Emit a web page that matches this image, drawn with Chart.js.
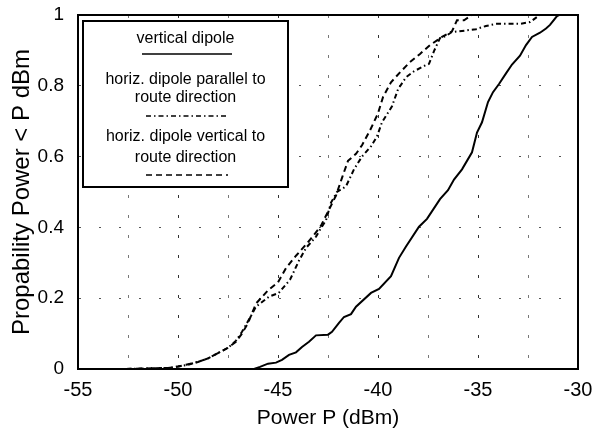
<!DOCTYPE html>
<html>
<head>
<meta charset="utf-8">
<script src="https://cdn.jsdelivr.net/npm/chart.js@4.4.0/dist/chart.umd.min.js"></script>
<style>
  html, body { margin: 0; padding: 0; background: #fff; }
  #wrap { width: 596px; height: 429px; position: relative; }
</style>
</head>
<body>
<div id="wrap"><canvas id="c" width="596" height="429"></canvas></div>
<script>
// ---- data ----
const xTicks = [-55, -50, -45, -40, -35, -30];
const yTicks = [0, 0.2, 0.4, 0.6, 0.8, 1];

const verticalLabel = ['vertical dipole'];
const verticalP = [-55, -46.2, -45.9, -45.5, -45.1, -44.8, -44.45, -44.1, -43.8, -43.45, -43.1, -42.5, -42.3, -41.95, -41.7, -41.35, -41.1, -40.35, -39.95, -39.35, -38.95, -38.6, -37.95, -37.55, -36.9, -36.5, -36.2, -35.8, -35.3, -35.05, -34.8, -34.5, -34.25, -33.95, -33.6, -33.3, -32.9, -32.6, -32.3, -31.9, -31.6, -31.4, -31.05, -30.95, -30];
const verticalF = [0, 0, 0.006, 0.015, 0.018, 0.026, 0.04, 0.047, 0.062, 0.077, 0.095, 0.097, 0.105, 0.13, 0.147, 0.155, 0.176, 0.215, 0.226, 0.262, 0.314, 0.346, 0.402, 0.424, 0.48, 0.505, 0.535, 0.564, 0.612, 0.668, 0.697, 0.754, 0.782, 0.805, 0.835, 0.86, 0.885, 0.915, 0.938, 0.95, 0.962, 0.972, 0.997, 1, 1];

const parallelLabel = ['horiz. dipole parallel to', 'route direction'];
const parallelP = [-52.6, -50.5, -50.0, -49.5, -49.0, -48.5, -48.0, -47.5, -47.1, -46.8, -46.4, -46.1, -45.46, -44.96, -44.4, -43.96, -43.6, -43.1, -42.85, -42.6, -42.35, -42.05, -41.6, -41.2, -40.8, -40.35, -40.05, -39.8, -39.3, -39.0, -38.6, -38.2, -37.7, -37.45, -37.2, -36.9, -36.6, -36.3, -35.8, -35.1, -34.6, -34.1, -33.4, -32.9, -32.4, -32.06, -31.9, -30];
const parallelF = [0, 0.003, 0.007, 0.012, 0.02, 0.03, 0.045, 0.06, 0.08, 0.105, 0.145, 0.176, 0.204, 0.215, 0.252, 0.305, 0.342, 0.374, 0.398, 0.42, 0.47, 0.5, 0.516, 0.564, 0.6, 0.629, 0.657, 0.697, 0.742, 0.79, 0.824, 0.841, 0.856, 0.862, 0.898, 0.935, 0.941, 0.952, 0.955, 0.96, 0.969, 0.975, 0.975, 0.975, 0.98, 0.994, 1, 1];

const perpLabel = ['horiz. dipole vertical to', 'route direction'];
const perpP = [-52.6, -50.5, -50.0, -49.6, -49.0, -48.5, -48.0, -47.5, -47.1, -46.8, -46.5, -46.1, -45.5, -45.0, -44.6, -44.1, -43.6, -43.25, -42.85, -42.45, -42.1, -41.8, -41.5, -41.1, -40.8, -40.4, -40.0, -39.75, -39.35, -38.9, -38.4, -37.9, -37.4, -36.8, -36.3, -36.05, -35.7, -35.3, -30];
const perpF = [0, 0.003, 0.007, 0.012, 0.02, 0.03, 0.045, 0.06, 0.077, 0.1, 0.13, 0.185, 0.222, 0.245, 0.285, 0.32, 0.352, 0.375, 0.405, 0.45, 0.49, 0.54, 0.588, 0.608, 0.632, 0.674, 0.722, 0.768, 0.81, 0.838, 0.867, 0.89, 0.915, 0.938, 0.954, 0.985, 0.985, 1, 1];

const xTitle = 'Power P (dBm)';
const yTitle = 'Propability Power < P dBm';

function pts(xs, ys) { return xs.map((x, i) => ({ x: x, y: ys[i] })); }

const FONT = '"Liberation Sans", Arial, Helvetica, sans-serif';

const legendPlugin = {
  id: 'boxLegend',
  afterDraw(chart) {
    const ctx = chart.ctx;
    ctx.save();
    // frame around plot
    const a = chart.chartArea;
    ctx.strokeStyle = '#000';
    ctx.lineWidth = 2;
    ctx.setLineDash([]);
    ctx.strokeRect(a.left, a.top, a.right - a.left, a.bottom - a.top);
    // legend box
    const bx = 83, by = 21, bw = 205, bh = 166;
    ctx.fillStyle = '#fff';
    ctx.fillRect(bx, by, bw, bh);
    ctx.lineWidth = 2;
    ctx.strokeRect(bx, by, bw, bh);
    const cx = bx + bw / 2;
    ctx.fillStyle = '#000';
    ctx.font = '16px ' + FONT;
    ctx.textAlign = 'center';
    ctx.textBaseline = 'middle';
    const layout = [
      { text: [39], line: 54, x1: 142, x2: 232 },
      { text: [80, 98], line: 116, x1: 146, x2: 228 },
      { text: [137, 158], line: 175, x1: 146, x2: 228 }
    ];
    chart.data.datasets.forEach((ds, i) => {
      const L = layout[i];
      ds.label.forEach((t, j) => ctx.fillText(t, cx, L.text[j]));
      ctx.beginPath();
      ctx.setLineDash(ds.borderDash || []);
      ctx.lineWidth = 1.5;
      ctx.strokeStyle = '#000';
      ctx.moveTo(L.x1, L.line);
      ctx.lineTo(L.x2, L.line);
      ctx.stroke();
    });
    ctx.restore();
  }
};

new Chart(document.getElementById('c'), {
  type: 'scatter',
  data: {
    datasets: [
      { label: verticalLabel, data: pts(verticalP, verticalF), showLine: true, borderColor: '#000', borderWidth: 2, borderDash: [], pointRadius: 0, tension: 0 },
      { label: parallelLabel, data: pts(parallelP, parallelF), showLine: true, borderColor: '#000', borderWidth: 2, borderDash: [5, 3, 1.5, 3], pointRadius: 0, tension: 0 },
      { label: perpLabel, data: pts(perpP, perpF), showLine: true, borderColor: '#000', borderWidth: 2, borderDash: [6, 4], pointRadius: 0, tension: 0 }
    ]
  },
  options: {
    responsive: false,
    animation: false,
    devicePixelRatio: 1,
    layout: { padding: { left: 0, right: 18, top: 15, bottom: 0 } },
    plugins: { legend: { display: false }, tooltip: { enabled: false } },
    scales: {
      x: {
        type: 'linear',
        min: xTicks[0], max: xTicks[xTicks.length - 1],
        afterFit(s) { s.height = 60; s.paddingLeft = 0; s.paddingRight = 0; },
        ticks: {
          stepSize: 2.5,
          autoSkip: false,
          maxRotation: 0,
          padding: 9,
          color: '#000',
          font: { family: FONT, size: 20 },
          callback: (v) => (xTicks.includes(v) ? String(v) : '')
        },
        grid: {
          drawTicks: false,
          lineWidth: 1,
          color: (c) => (c.tick && xTicks.includes(c.tick.value) ? '#333' : '#777')
        },
        border: { display: true, color: '#000', width: 2, dash: [3, 17] },
        title: { display: true, text: xTitle, color: '#000', font: { family: FONT, size: 21, lineHeight: 1 }, padding: { top: 0, bottom: 0 } }
      },
      y: {
        type: 'linear',
        min: yTicks[0], max: yTicks[yTicks.length - 1],
        afterFit(s) { s.width = 78; s.paddingTop = 0; s.paddingBottom = 0; },
        ticks: {
          stepSize: 0.2,
          padding: 14,
          color: '#000',
          font: { family: FONT, size: 19 },
          callback: (v) => String(Math.round(v * 10) / 10)
        },
        grid: { drawTicks: false, lineWidth: 1, color: '#555' },
        border: { display: true, color: '#000', width: 2, dash: [2, 18] },
        title: { display: true, text: yTitle, color: '#000', font: { family: FONT, size: 24, lineHeight: 1 }, padding: { top: 10, bottom: 0 } }
      }
    }
  },
  plugins: [legendPlugin]
});
</script>
</body>
</html>
